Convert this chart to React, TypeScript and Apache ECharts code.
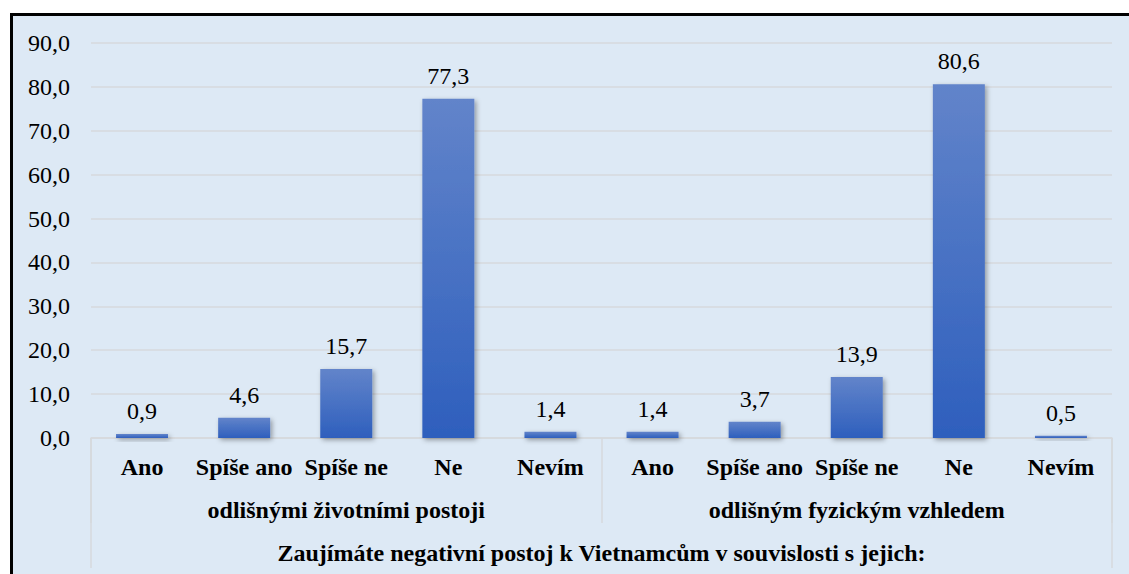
import React, { useEffect, useRef } from "react";
import * as echarts from "echarts";

const categories = ["Ano", "Spíše ano", "Spíše ne", "Ne", "Nevím", "Ano", "Spíše ano", "Spíše ne", "Ne", "Nevím"];
const values = [0.9, 4.6, 15.7, 77.3, 1.4, 1.4, 3.7, 13.9, 80.6, 0.5];
const groups = ["odlišnými životními postoji", "odlišným fyzickým vzhledem"];
const title = ["Zaujímáte negativní postoj k Vietnamcům v souvislosti s jejich:"];

const FONT = "serif";
const GRID = "#d6d9dd";

export default function App() {
  const ref = useRef<HTMLDivElement>(null);
  useEffect(() => {
    if (!ref.current) return;
    const chart = echarts.init(ref.current, undefined, { renderer: "svg" });
    const fmt = (v: number) => v.toFixed(1).replace(".", ",");
    const lab = (extra: any) => ({
      fontFamily: FONT,
      fontSize: 24,
      color: "#000",
      ...extra,
    });
    chart.setOption({
      animation: false,
      backgroundColor: "transparent",
      textStyle: { fontFamily: FONT },
      grid: { left: 78, top: 27, width: 1021, height: 395 },
      yAxis: {
        type: "value",
        min: 0,
        max: 90,
        interval: 10,
        axisLine: { show: false },
        axisTick: { show: false },
        splitLine: { lineStyle: { color: GRID, width: 1.5 } },
        axisLabel: lab({ formatter: (v: number) => fmt(v), margin: 21 }),
      },
      xAxis: [
        {
          type: "category",
          data: categories,
          position: "bottom",
          axisLine: { show: true, lineStyle: { color: GRID, width: 1.5 } },
          axisTick: { show: false },
          axisLabel: lab({ interval: 0, fontWeight: "bold", margin: 17 }),
        },
        {
          type: "category",
          data: groups,
          position: "bottom",
          axisLine: { show: false },
          axisTick: { show: true, length: 85, lineStyle: { color: GRID, width: 1.5 } },
          axisLabel: lab({ interval: 0, fontWeight: "bold", margin: 60 }),
        },
        {
          type: "category",
          data: title,
          position: "bottom",
          axisLine: { show: false },
          axisTick: { show: true, length: 130, lineStyle: { color: GRID, width: 1.5 } },
          axisLabel: lab({ interval: 0, fontWeight: "bold", margin: 103 }),
        },
      ],
      series: [
        {
          type: "bar",
          xAxisIndex: 0,
          data: values,
          barWidth: 52,
          itemStyle: {
            color: new echarts.graphic.LinearGradient(0, 0, 0, 1, [
              { offset: 0, color: "#6284ca" },
              { offset: 1, color: "#2e5fbd" },
            ]),
            shadowBlur: 5,
            shadowColor: "rgba(0,0,0,0.35)",
            shadowOffsetX: 2,
            shadowOffsetY: 2,
          },
          label: lab({
            show: true,
            position: "top",
            distance: 11,
            formatter: (p: any) => fmt(p.value),
          }),
        },
      ],
    });
    return () => chart.dispose();
  }, []);
  return (
    <div style={{ position: "absolute", left: 0, top: 0, width: 1129, height: 574, background: "#fff", overflow: "hidden" }}>
      <div
        style={{
          position: "absolute",
          left: 10,
          top: 13,
          width: 1130,
          height: 570,
          background: "#dde9f5",
          borderTop: "3px solid #000",
          borderLeft: "3px solid #000",
        }}
      >
        <div ref={ref} style={{ position: "absolute", left: 0, top: 0, width: 1116, height: 558 }} />
      </div>
    </div>
  );
}
